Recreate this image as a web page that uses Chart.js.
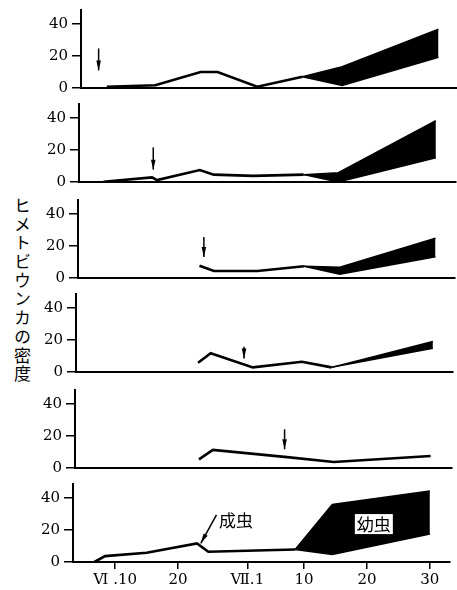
<!DOCTYPE html>
<html lang="ja">
<head>
<meta charset="UTF-8">
<title>ヒメトビウンカの密度</title>
<script src="https://cdn.jsdelivr.net/npm/chart.js"></script>
<style>
  html, body { margin: 0; padding: 0; background: #fff; }
  body { position: relative; width: 457px; height: 590px; overflow: hidden; }
  .panel { position: absolute; }
  #ytitle {
    position: absolute; left: 12px; top: 197px;
    writing-mode: vertical-rl; font-family: "Noto Sans CJK JP", sans-serif;
    font-size: 17px; letter-spacing: 1.7px; color: #000; line-height: 20px;
  }
</style>
</head>
<body>
<div id="ytitle">ヒメトビウンカの密度</div>

<script>
// x axis: day counted from June 1 (Ⅶ.1 = day 31)
const tickDays = [10, 20, 31, 40, 50, 60];
const tickLabels = ['Ⅵ .10', '20', 'Ⅶ.1', '10', '20', '30'];

// panel 1
const p1Days = [7.4, 15.1, 22.3, 25, 31.3, 38.5];
const p1Vals = [0.8, 1.7, 10, 10, 0.8, 7];
const p1BandDays = [38.5, 44.8, 60.1];
const p1BandTop = [7, 13.3, 36.7];
const p1BandLow = [7, 1.5, 19.2];

// panel 2
const p2Days = [7.2, 14.9, 15.7, 22.5, 24.7, 31, 39];
const p2Vals = [0.2, 2.9, 1.2, 7.5, 4.6, 3.8, 4.6];
const p2BandDays = [39, 44.5, 60];
const p2BandTop = [4.6, 5.8, 38.3];
const p2BandLow = [4.6, 0, 15.2];

// panel 3
const p3Days = [22.6, 24.9, 31.8, 39.2];
const p3Vals = [7.7, 4.4, 4.4, 7.3];
const p3BandDays = [39.2, 44.9, 60.1];
const p3BandTop = [7.3, 6.7, 24.8];
const p3BandLow = [7.3, 2.3, 13.3];

// panel 4
const p4Days = [22.7, 24.7, 31.4, 39.2, 43.9];
const p4Vals = [5.8, 11.7, 2.9, 6.4, 2.9];
const p4BandDays = [43.9, 60];
const p4BandTop = [2.9, 19];
const p4BandLow = [2.9, 14.8];

// panel 5
const p5Days = [23, 25.2, 37, 44.4, 59.8];
const p5Vals = [5.4, 11.3, 6.8, 3.75, 7.5];

// panel 6 (成虫 line + 幼虫 band)
const p6Days = [6.7, 8.4, 15, 23, 24.8, 38.6];
const p6Vals = [0, 3.7, 5.8, 11.6, 6.4, 7.8];
const p6BandDays = [38.6, 44.5, 60];
const p6BandTop = [7.8, 36, 44.4];
const p6BandLow = [7.8, 4.7, 17.5];

// downward arrows (panels 1-5)
const arrowDays = [6.1, 15.1, 23.3, 30, 36.6];
const arrowFrom = [24.7, 21.6, 25.6, 15.8, 24.2];
const arrowTo = [11, 7.7, 13.1, 8.5, 11.7];

const panels = [
  { days: p1Days, vals: p1Vals, bDays: p1BandDays, bTop: p1BandTop, bLow: p1BandLow },
  { days: p2Days, vals: p2Vals, bDays: p2BandDays, bTop: p2BandTop, bLow: p2BandLow },
  { days: p3Days, vals: p3Vals, bDays: p3BandDays, bTop: p3BandTop, bLow: p3BandLow },
  { days: p4Days, vals: p4Vals, bDays: p4BandDays, bTop: p4BandTop, bLow: p4BandLow },
  { days: p5Days, vals: p5Vals },
  { days: p6Days, vals: p6Vals, bDays: p6BandDays, bTop: p6BandTop, bLow: p6BandLow }
];

// layout
const plotBottoms = [88, 182, 278, 372, 468, 562];
const plotH = 78;
const padTop = 6;
const serif = '"DejaVu Serif", "Liberation Serif", serif';

function pts(xs, ys) {
  return xs.map((x, i) => ({ x: x, y: ys[i] }));
}

function arrowHead(ctx, x1, y1, x2, y2, len, half) {
  const a = Math.atan2(y2 - y1, x2 - x1);
  ctx.beginPath();
  ctx.moveTo(x2, y2);
  ctx.lineTo(x2 - len * Math.cos(a) + half * Math.sin(a), y2 - len * Math.sin(a) - half * Math.cos(a));
  ctx.lineTo(x2 - len * Math.cos(a) - half * Math.sin(a), y2 - len * Math.sin(a) + half * Math.cos(a));
  ctx.closePath();
  ctx.fill();
}

function drawArrow(ctx, x1, y1, x2, y2) {
  ctx.save();
  ctx.strokeStyle = '#000';
  ctx.fillStyle = '#000';
  ctx.lineWidth = 1.5;
  ctx.beginPath();
  ctx.moveTo(x1, y1);
  ctx.lineTo(x2, y2);
  ctx.stroke();
  arrowHead(ctx, x1, y1, x2, y2, 10, 2.3);
  ctx.restore();
}

const notesPlugin = {
  id: 'notes',
  afterDatasetsDraw(chart, args, opts) {
    const ctx = chart.ctx;
    const xs = chart.scales.x, ys = chart.scales.y;
    const i = opts.panel;
    if (i < 5) {
      drawArrow(ctx, xs.getPixelForValue(arrowDays[i]), ys.getPixelForValue(arrowFrom[i]),
                xs.getPixelForValue(arrowDays[i]), ys.getPixelForValue(arrowTo[i]));
    } else {
      drawArrow(ctx, xs.getPixelForValue(26.1), ys.getPixelForValue(29.4),
                xs.getPixelForValue(23.6), ys.getPixelForValue(11.7));
      ctx.save();
      ctx.font = '17px "Noto Sans CJK JP", sans-serif';
      ctx.fillStyle = '#000';
      ctx.textBaseline = 'middle';
      ctx.textAlign = 'left';
      ctx.fillText('成虫', xs.getPixelForValue(26.5), ys.getPixelForValue(26.2));
      const cx = xs.getPixelForValue(51.1), cy = ys.getPixelForValue(23.7);
      const w = ctx.measureText('幼虫').width;
      ctx.fillStyle = '#fff';
      ctx.fillRect(cx - w / 2 - 2, cy - 10, w + 4, 20);
      ctx.fillStyle = '#000';
      ctx.textAlign = 'center';
      ctx.fillText('幼虫', cx, cy);
      ctx.restore();
    }
  }
};

panels.forEach((p, i) => {
  const last = i === 5;
  const xH = last ? 28 : 6;
  const div = document.createElement('div');
  div.className = 'panel';
  div.style.left = ((5 - i) * 1.5) + 'px';
  div.style.top = (plotBottoms[i] - plotH - padTop) + 'px';
  const cv = document.createElement('canvas');
  cv.width = 457;
  cv.height = padTop + plotH + xH;
  div.appendChild(cv);
  document.body.appendChild(div);

  const datasets = [{
    data: pts(p.days, p.vals),
    borderColor: '#000', borderWidth: 2.6, pointRadius: 0, fill: false, tension: 0
  }];
  if (p.bDays) {
    datasets.push({
      data: pts(p.bDays, p.bTop),
      borderColor: '#000', backgroundColor: '#000', borderWidth: 1.5,
      pointRadius: 0, fill: '+1', tension: 0
    });
    datasets.push({
      data: pts(p.bDays, p.bLow),
      borderColor: '#000', borderWidth: 1.5, pointRadius: 0, fill: false, tension: 0
    });
  }

  new Chart(cv.getContext('2d'), {
    type: 'line',
    data: { datasets: datasets },
    plugins: [notesPlugin],
    options: {
      responsive: false,
      animation: false,
      devicePixelRatio: 1,
      layout: { padding: { top: padTop, right: 7, left: 0, bottom: 0 } },
      plugins: {
        legend: { display: false },
        tooltip: { enabled: false },
        notes: { panel: i }
      },
      scales: {
        x: {
          type: 'linear',
          min: 3.3,
          max: 63.2,
          afterFit: s => { s.height = xH; s.paddingLeft = 0; s.paddingRight = 0; },
          afterBuildTicks: s => { s.ticks = tickDays.map(v => ({ value: v })); },
          border: { display: true, color: '#000', width: 2 },
          grid: { drawOnChartArea: false, drawTicks: last, tickLength: 7, color: '#000', lineWidth: 1.5 },
          ticks: {
            display: last,
            color: '#000',
            padding: 2,
            maxRotation: 0,
            font: { family: serif, size: 15 },
            callback: (v, idx) => tickLabels[idx]
          }
        },
        y: {
          min: 0,
          max: 48.75,
          afterFit: s => { s.width = 73; s.paddingTop = 0; s.paddingBottom = 0; },
          afterBuildTicks: s => { s.ticks = [0, 20, 40].map(v => ({ value: v })); },
          border: { display: true, color: '#000', width: 2 },
          grid: { drawOnChartArea: false, tickLength: 9, color: '#000', lineWidth: 1.5 },
          ticks: { color: '#000', padding: 4, font: { family: serif, size: 15 } }
        }
      }
    }
  });
});
</script>
</body>
</html>
